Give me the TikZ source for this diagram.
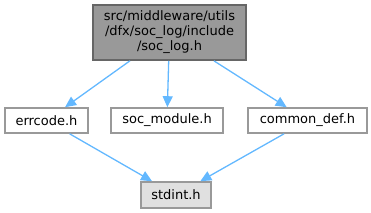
\documentclass[tikz,border=0pt]{standalone}
\usepackage{fontspec}
\setmainfont{DejaVu Sans}
\usepackage{xcolor}
\usetikzlibrary{arrows.meta}
\definecolor{edgeblue}{HTML}{63B8FF}
\definecolor{rootgray}{HTML}{999999}
\definecolor{rootline}{HTML}{666666}
\definecolor{filegray}{HTML}{E0E0E0}

\begin{document}
\begin{tikzpicture}[
      x=1pt, y=-1pt,
      every node/.style={draw=rootgray, line width=1.6pt, fill=white, inner sep=0pt,
        font=\fontsize{13}{15}\selectfont, minimum height=25pt},
      rootfile/.style={fill=rootgray, draw=rootline, align=center,
        minimum width=153pt, minimum height=55pt},
      sysfile/.style={fill=filegray, minimum height=26pt},
      incl/.style={draw=edgeblue, line width=1.3pt, -{Triangle[length=11pt,width=10pt]}}
    ]
      \useasboundingbox (0,0) rectangle (371,212);
      \node[rootfile] (soclog) at (169.5,32.5)
        {src/middleware/utils\\/dfx/soc\_log/include\\/soc\_log.h};
      \node[minimum width=83pt] (errcode) at (46.5,120.5) {errcode.h};
      \node[minimum width=112pt] (socmodule) at (167,120.5) {soc\_module.h};
      \node[minimum width=119pt] (commondef) at (307.5,120.5) {common\_def.h};
      \node[sysfile, minimum width=70pt] (stdint) at (176,195) {stdint.h};

      \draw[incl] (soclog) -- (errcode);
      \draw[incl] (soclog) -- (socmodule);
      \draw[incl] (soclog) -- (commondef);
      \draw[incl] (errcode) -- (stdint);
      \draw[incl] (commondef) -- (stdint);
  \end{tikzpicture}
\end{document}
